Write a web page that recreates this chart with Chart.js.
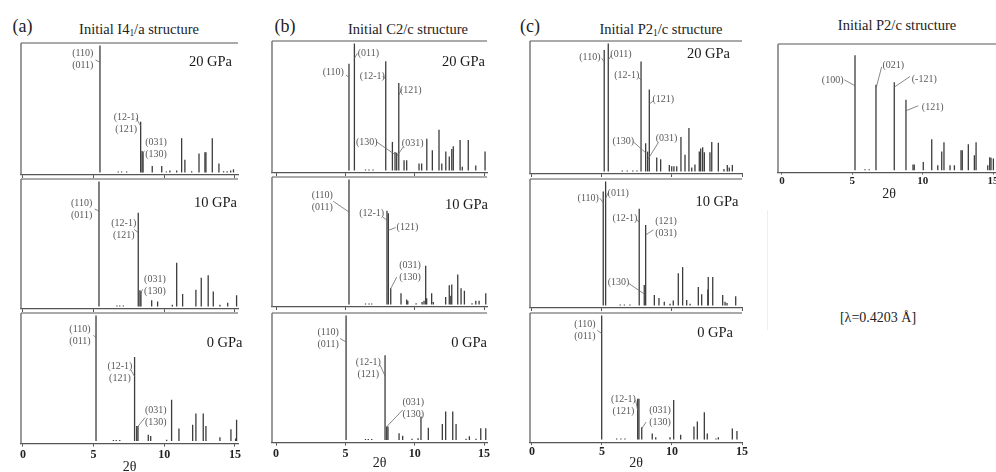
<!DOCTYPE html>
<html>
<head>
<meta charset="utf-8">
<script src="https://cdn.jsdelivr.net/npm/chart.js@4.4.0/dist/chart.umd.min.js"></script>
<style>
  html, body { margin: 0; padding: 0; background: #fff; overflow: hidden; width: 996px; height: 472px; }
  #fig { position: relative; width: 996px; height: 472px; overflow: hidden; }
  #fig canvas { position: absolute; }
  .t { position: absolute; transform: translate(-50%, -50%); font-family: 'Liberation Serif', 'Times New Roman', serif; color: #222; white-space: nowrap; line-height: 1; }
  .t sub { font-size: 0.65em; vertical-align: -0.25em; line-height: 0; }
</style>
</head>
<body>
<div id="fig">
  <div class="t" style="left:22.5px;top:25.5px;font-size:18px">(a)</div>
  <div class="t" style="left:139px;top:29px;font-size:14.5px">Initial I4<sub>1</sub>/a structure</div>
  <div class="t" style="left:285px;top:25.5px;font-size:18px">(b)</div>
  <div class="t" style="left:408px;top:29px;font-size:14.5px">Initial C2/c structure</div>
  <div class="t" style="left:530px;top:25.5px;font-size:18px">(c)</div>
  <div class="t" style="left:661px;top:29px;font-size:14.5px">Initial P2<sub>1</sub>/c structure</div>
  <div class="t" style="left:897px;top:25px;font-size:14.5px">Initial P2/c structure</div>
  <div class="t" style="left:878px;top:318px;font-size:14px">[λ=0.4203 Å]</div>
  <div style="position:absolute;left:767px;top:210px;width:1px;height:120px;background:#eeeeee"></div>
</div>
<script>
const FONT = "'Liberation Serif', 'Times New Roman', serif";

// ---- simulated XRD sticks: 2θ positions (deg) and relative intensities ----
// I4_1/a start
const a20Theta = [5.45, 6.74, 6.98, 7.34, 8.33, 8.43, 8.50, 9.15, 9.82, 10.15, 10.40, 10.88, 11.23, 11.46, 11.94, 12.46, 12.88, 12.95, 13.40, 13.87, 14.20, 14.45, 14.70, 14.90];
const a20Int   = [100, 0.8, 0.8, 0.8, 40, 17, 16, 5, 5, 0.8, 1.5, 1.5, 27, 10, 1, 15, 16, 16, 27, 7, 1, 1, 1.5, 2.5];
const a10Theta = [5.38, 6.65, 6.85, 7.10, 8.16, 8.28, 8.35, 9.11, 9.53, 10.57, 10.88, 11.30, 12.24, 12.62, 13.11, 13.47, 13.94, 14.49, 15.12];
const a10Int   = [100, 0.8, 0.8, 0.8, 75, 13, 12, 5, 4, 1.5, 35, 10, 13.5, 23, 25, 12, 1.5, 3, 9];
const a0Theta  = [5.17, 6.40, 6.60, 6.85, 7.90, 8.05, 8.14, 8.87, 9.04, 10.17, 10.52, 11.04, 12.01, 12.24, 12.76, 12.95, 13.94, 14.72, 15.05, 15.12];
const a0Int    = [100, 0.8, 0.8, 0.8, 67, 12, 12, 5, 4, 1, 33, 10, 13, 22, 22, 12, 3, 9.5, 2, 17];

// C2/c start
const b20Theta = [5.26, 5.65, 6.45, 6.70, 7.00, 7.91, 8.39, 8.58, 8.70, 8.85, 9.23, 9.42, 10.31, 10.50, 10.87, 11.27, 11.75, 11.95, 12.24, 12.49, 12.67, 12.78, 13.27, 13.43, 13.86, 14.40, 15.07];
const b20Int   = [84, 100, 0.8, 0.8, 0.8, 86, 22.5, 14.5, 14, 69, 8, 8, 5.5, 5.5, 25, 16, 32, 5.5, 15, 11, 17, 19, 24, 3, 24, 4, 15];
const b10Theta = [5.26, 6.45, 6.70, 6.90, 8.00, 8.10, 8.27, 9.01, 9.42, 9.50, 10.10, 10.53, 10.67, 10.79, 10.86, 11.22, 11.34, 12.23, 12.49, 12.60, 12.67, 13.10, 13.34, 13.58, 14.13, 14.40, 14.64, 15.12];
const b10Int   = [100, 0.8, 0.8, 0.8, 75, 73, 13, 9, 4, 3, 1, 2, 3, 31, 5, 9, 2, 6, 15.5, 7, 16, 24, 13, 11, 1, 3, 3, 9];
const b0Theta  = [5.05, 6.45, 6.65, 6.90, 7.86, 7.98, 8.07, 8.87, 9.13, 9.80, 10.24, 10.45, 10.98, 11.99, 12.23, 12.74, 12.98, 13.70, 13.94, 14.42, 14.76, 15.12];
const b0Int    = [100, 0.8, 0.8, 0.8, 68, 11, 11, 5.5, 3.5, 1, 1.5, 19, 10, 13, 23, 23, 13, 1, 3, 1, 9.5, 9.5];

// P2_1/c start
const c20Theta = [5.16, 5.45, 6.45, 6.80, 7.20, 7.50, 7.79, 8.12, 8.26, 8.38, 8.91, 9.19, 9.81, 9.98, 10.14, 10.34, 10.64, 10.93, 11.21, 11.41, 11.64, 11.95, 12.05, 12.19, 12.31, 12.71, 12.84, 13.31, 13.71, 13.95, 14.09, 14.31];
const c20Int   = [95, 100, 0.8, 0.8, 0.8, 0.8, 86, 22, 15.5, 64, 11, 9.5, 5, 4, 4, 4, 27, 13, 34, 3, 5.5, 15.5, 18, 19, 15, 15, 23, 22.5, 2, 5, 3, 5];
const c10Theta = [5.09, 5.26, 6.30, 6.60, 7.00, 7.66, 8.02, 8.12, 8.74, 9.07, 9.45, 9.86, 10.09, 10.45, 10.76, 11.05, 11.29, 11.88, 12.12, 12.56, 12.59, 12.91, 13.62, 13.79, 13.93, 14.55];
const c10Int   = [92, 100, 0.8, 0.8, 0.8, 78, 16.5, 65, 8.5, 6, 3, 1.5, 4, 26, 31, 4.5, 1.5, 15, 9, 13, 23, 23, 8.5, 3, 2, 7.5];
const c0Theta  = [4.98, 6.05, 6.35, 6.64, 7.55, 7.64, 7.84, 8.59, 8.84, 9.86, 10.12, 10.62, 11.57, 11.81, 12.31, 12.52, 13.14, 13.31, 14.31, 14.64];
const c0Int    = [100, 0.8, 0.8, 0.8, 33, 33, 10, 5, 2, 2, 32, 4, 10.5, 14.5, 22, 5, 1, 2, 9, 7];

// P2/c start
const p2Theta = [5.19, 5.90, 6.20, 6.68, 7.98, 8.81, 9.31, 9.40, 10.04, 10.64, 11.07, 11.35, 11.51, 11.94, 12.25, 12.72, 12.81, 13.24, 13.67, 13.79, 14.62, 14.76, 14.85, 15.02];
const p2Int   = [93, 0.8, 0.8, 69, 71, 57, 4.5, 4.5, 6.5, 25, 4, 15, 22.5, 4, 4, 16, 16, 21, 12, 22.5, 4, 10.5, 10, 9.5];

// ---- reflection labels and the stick (index) each one marks ----
const a20Hkl = [['(110)', '(011)'], ['(12-1)', '(121)'], ['(031)', '(130)']];   const a20HklPeak = [0, 4, 5];
const a10Hkl = [['(110)', '(011)'], ['(12-1)', '(121)'], ['(031)', '(130)']];   const a10HklPeak = [0, 4, 5];
const a0Hkl  = [['(110)', '(011)'], ['(12-1)', '(121)'], ['(031)', '(130)']];   const a0HklPeak  = [0, 4, 5];
const b20Hkl = [['(110)'], ['(011)'], ['(12-1)'], ['(121)'], ['(130)'], ['(031)']]; const b20HklPeak = [0, 1, 5, 9, 7, 8];
const b10Hkl = [['(110)', '(011)'], ['(12-1)'], ['(121)'], ['(031)', '(130)']]; const b10HklPeak = [0, 4, 5, 6];
const b0Hkl  = [['(110)', '(011)'], ['(12-1)', '(121)'], ['(031)', '(130)']];   const b0HklPeak  = [0, 4, 5];
const c20Hkl = [['(110)'], ['(011)'], ['(12-1)'], ['(121)'], ['(130)'], ['(031)']]; const c20HklPeak = [0, 1, 6, 9, 7, 8];
const c10Hkl = [['(110)'], ['(011)'], ['(12-1)'], ['(121)', '(031)'], ['(130)']]; const c10HklPeak = [0, 1, 5, 7, 6];
const c0Hkl  = [['(110)', '(011)'], ['(12-1)', '(121)'], ['(031)', '(130)']];   const c0HklPeak  = [0, 4, 6];
const p2Hkl  = [['(100)'], ['(021)'], ['(-121)'], ['(121)']];                     const p2HklPeak  = [0, 3, 4, 5];

const xTickStep = 5;

// ---- panel layout: plot box [left, top, right, bottom] in page pixels, 2θ range,
//      label callouts [touch level, text dx, text dy, leader dx, leader dy] ----
const panels = [
  { box: [21, 43, 238, 175], range: [-0.14, 15.22], theta: a20Theta, inten: a20Int, hkl: a20Hkl, hklPeak: a20HklPeak,
    gpa: '20 GPa', gpaAt: [-6, 19],
    callouts: [[86.8, -17.2, -2.8, -4.5, -2.3], [36.6, -14.5, -2.3, -4.4, -7.7], [14.3, 14, -6, 2.4, -3.6]] },
  { box: [21, 179, 238, 309], range: [-0.14, 15.22], theta: a10Theta, inten: a10Int, hkl: a10Hkl, hklPeak: a10HklPeak,
    gpa: '10 GPa', gpaAt: [-1, 24],
    callouts: [[76.4, -17.3, -1.8, -4.3, -2], [59, -14.5, -3.5, -4, -3.4], [9.2, 15, -10, 2.6, -5.7]] },
  { box: [21, 313, 238, 444], range: [-0.14, 15.22], theta: a0Theta, inten: a0Int, hkl: a0Hkl, hklPeak: a0HklPeak,
    gpa: '0 GPa', gpaAt: [4.5, 30],
    callouts: [[82.4, -16, -2.2, -2.7, -2.4], [51.4, -14.7, -3.9, -3.7, -6.7], [10.5, 19, -11.4, 8.4, -10.4]],
    axis: { tick: 3, pad: 1, size: 12, titleAt: 24 } },

  { box: [272, 41, 487, 173], range: [-0.29, 15.21], theta: b20Theta, inten: b20Int, hkl: b20Hkl, hklPeak: b20HklPeak,
    gpa: '20 GPa', gpaAt: [-2, 21],
    callouts: [[73.4, -15.7, -4.6, -3, -2.3], [88.4, 14, -5, 3, -5], [71.8, -13.4, -2.6, -3, -3.3],
               [59.4, 12, -4.3, 3, -5.7], [12.5, -28.3, -12.6, -18.3, -12.6], [11.2, 16, -13.3, 6.6, -9.3]] },
  { box: [272, 177, 487, 307], range: [-0.29, 15.21], theta: b10Theta, inten: b10Int, hkl: b10Hkl, hklPeak: b10HklPeak,
    gpa: '10 GPa', gpaAt: [1, 28],
    callouts: [[74, -26.7, -10.9, -15.7, -10.7], [67.4, -15.3, -6.7, -4.3, -3.3], [59.4, 19, -2.7, 7.4, -2.7], [12.7, 19.3, -17, 6, -11.6]] },
  { box: [272, 313, 487, 443], range: [-0.29, 15.21], theta: b0Theta, inten: b0Int, hkl: b0Hkl, hklPeak: b0HklPeak,
    gpa: '0 GPa', gpaAt: [0, 30],
    callouts: [[78.8, -18, -3.9, -6, -3.4], [51.4, -16.7, -8, -5, -11], [10.8, 26.6, -18.7, 16, -16.7]],
    axis: { tick: 3, pad: 1, size: 12, titleAt: 21 } },

  { box: [530, 41, 742, 174], range: [-0.14, 15.0], theta: c20Theta, inten: c20Int, hkl: c20Hkl, hklPeak: c20HklPeak,
    gpa: '20 GPa', gpaAt: [-12, 13],
    callouts: [[85.8, -14.3, -4.4, -2.6, -3.4], [87.1, 12.7, -6, 3.4, -5], [71.5, -14.3, -4.3, -2.7, -2.7],
               [52.7, 14, -4.7, 4, -3.3], [14.6, -22.4, -11, -12.4, -11], [9, 19, -21.7, 10.6, -17.3]] },
  { box: [530, 179, 742, 308], range: [-0.14, 15.0], theta: c10Theta, inten: c10Int, hkl: c10Hkl, hklPeak: c10HklPeak,
    gpa: '10 GPa', gpaAt: [-3.5, 23],
    callouts: [[82.9, -15, -4.4, -3.3, -4.4], [86.5, 12.6, -5, 2.6, -5.6], [66.8, -14.3, -4.4, -2.6, -3.4],
               [56.9, 20.3, -7.3, 7.6, -5], [9.3, -25.7, -11.3, -15.7, -10.7]] },
  { box: [530, 313, 742, 442], range: [-0.14, 15.0], theta: c0Theta, inten: c0Int, hkl: c0Hkl, hklPeak: c0HklPeak,
    gpa: '0 GPa', gpaAt: [-9, 20],
    callouts: [[85.4, -16.7, -3.3, -4.4, -3.3], [23.6, -14.3, -4.8, -2, -10], [8.8, 18.3, -12.1, 4.3, -6.6]],
    axis: { tick: 3, pad: 0, size: 12, titleAt: 21.5 } },

  { box: [778, 44, 1000, 173], range: [-0.28, 15.49], theta: p2Theta, inten: p2Int, hkl: p2Hkl, hklPeak: p2HklPeak,
    gpa: null,
    callouts: [[68.2, -22.3, -5, -10.7, -6], [66, 17.3, -22.7, 5.7, -21.7], [67.1, 30, -7.3, 15.7, -10.6], [48, 26.7, -3.3, 12.3, -5]],
    axis: { tick: 2, pad: 0, size: 11, titleAt: 22 } }
];

const PAD = 14;
const fig = document.getElementById('fig');

// plot frame: grey top rule and left rule
const framePlugin = {
  id: 'frame',
  beforeDatasetsDraw(chart) {
    const { ctx, chartArea: a } = chart;
    ctx.save();
    ctx.lineWidth = 1.4;
    ctx.strokeStyle = '#8e8e8e';
    ctx.beginPath(); ctx.moveTo(a.left, a.top); ctx.lineTo(a.right, a.top); ctx.stroke();
    ctx.strokeStyle = '#707070';
    ctx.beginPath(); ctx.moveTo(a.left, a.top); ctx.lineTo(a.left, a.bottom); ctx.stroke();
    ctx.restore();
  }
};

panels.forEach((p) => {
  const [L, T, R, B] = p.box;
  const axisH = p.axis ? p.axis.titleAt + 8.4 : 4;
  const w = (R - L) + 2 * PAD;
  const h = (B - T) + PAD + axisH + 2;
  const cv = document.createElement('canvas');
  cv.width = w; cv.height = Math.round(h);
  cv.style.left = (L - PAD) + 'px';
  cv.style.top = (T - PAD) + 'px';
  cv.style.width = w + 'px';
  cv.style.height = Math.round(h) + 'px';
  fig.appendChild(cv);

  // hkl callouts with leader lines, and the pressure tag
  const notesPlugin = {
    id: 'notes',
    afterDatasetsDraw(chart) {
      const { ctx, scales: { x, y }, chartArea: a } = chart;
      ctx.save();
      ctx.font = '10px ' + FONT;
      ctx.fillStyle = '#585858';
      ctx.strokeStyle = '#6a6a6a';
      ctx.lineWidth = 0.8;
      ctx.textAlign = 'center';
      ctx.textBaseline = 'middle';
      p.hkl.forEach((lines, i) => {
        const [v, tx, ty, lx, ly] = p.callouts[i];
        const ex = x.getPixelForValue(p.theta[p.hklPeak[i]]);
        const ey = y.getPixelForValue(v);
        ctx.beginPath(); ctx.moveTo(ex + lx, ey + ly); ctx.lineTo(ex, ey); ctx.stroke();
        const cx = ex + tx, cy = ey + ty;
        lines.forEach((s, k) => ctx.fillText(s, cx, cy + (k - (lines.length - 1) / 2) * 12));
      });
      if (p.gpa) {
        ctx.font = '14.5px ' + FONT;
        ctx.fillStyle = '#1a1a1a';
        ctx.textAlign = 'right';
        ctx.fillText(p.gpa, a.right + p.gpaAt[0], a.top + p.gpaAt[1]);
      }
      ctx.restore();
    }
  };

  new Chart(cv, {
    type: 'bar',
    data: {
      datasets: [{
        data: p.theta.map((t, i) => ({ x: t, y: p.inten[i] })),
        backgroundColor: '#3c3c3c',
        borderWidth: 0,
        inflateAmount: 0,
        barThickness: 1.3,
        grouped: false
      }]
    },
    options: {
      responsive: false,
      animation: false,
      events: [],
      devicePixelRatio: 1,
      layout: { padding: { left: PAD, right: PAD, top: PAD, bottom: 2 } },
      plugins: { legend: { display: false }, tooltip: { enabled: false } },
      scales: {
        x: {
          type: 'linear',
          min: p.range[0],
          max: p.range[1],
          offset: false,
          afterFit: (s) => { s.height = axisH; },
          grid: { display: true, offset: false, drawOnChartArea: false, drawTicks: true,
                  tickLength: p.axis ? p.axis.tick : 3, color: '#555', lineWidth: 1 },
          border: { display: true, color: '#555', width: 1.2 },
          ticks: {
            display: !!p.axis,
            stepSize: xTickStep,
            includeBounds: false,
            autoSkip: false,
            maxRotation: 0,
            padding: p.axis ? p.axis.pad : 0,
            color: '#222',
            font: { family: FONT, size: p.axis ? p.axis.size : 12, weight: 'bold' }
          },
          title: { display: !!p.axis, text: '2θ', padding: 0, color: '#222', font: { family: FONT, size: 14 } }
        },
        y: { display: false, min: -2, max: 102 }
      }
    },
    plugins: [framePlugin, notesPlugin]
  });
});
</script>
</body>
</html>
